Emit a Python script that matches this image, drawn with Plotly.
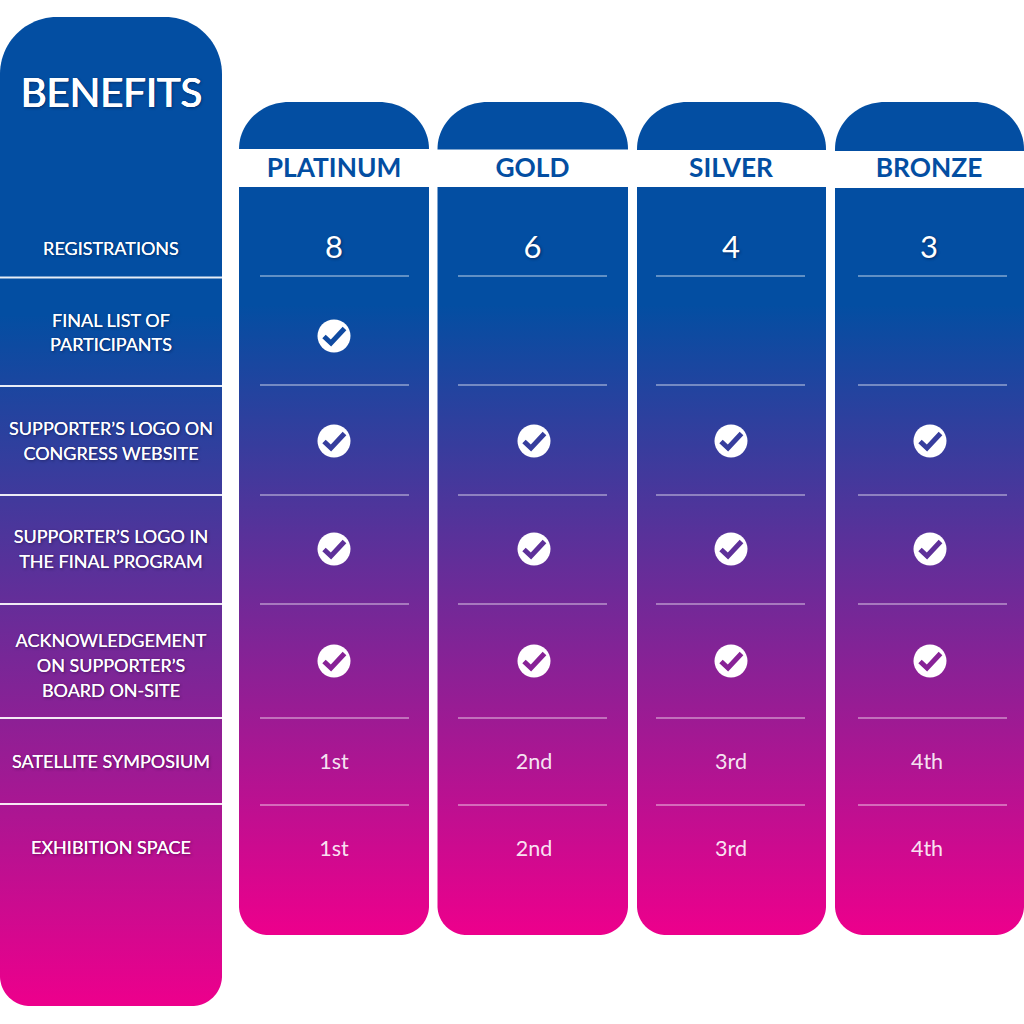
import plotly.graph_objects as go
import math

# ---- content
tiers = ["PLATINUM", "GOLD", "SILVER", "BRONZE"]
benefit_lines = [
    ["REGISTRATIONS"],
    ["FINAL LIST OF", "PARTICIPANTS"],
    ["SUPPORTER’S LOGO ON", "CONGRESS WEBSITE"],
    ["SUPPORTER’S LOGO IN", "THE FINAL PROGRAM"],
    ["ACKNOWLEDGEMENT", "ON SUPPORTER’S", "BOARD ON-SITE"],
    ["SATELLITE SYMPOSIUM"],
    ["EXHIBITION SPACE"],
]
registrations = ["8", "6", "4", "3"]
final_list = [True, False, False, False]
logo_web = [True, True, True, True]
logo_prog = [True, True, True, True]
board = [True, True, True, True]
satellite = ["1st", "2nd", "3rd", "4th"]
exhibition = ["1st", "2nd", "3rd", "4th"]

# ---- layout in page pixels
col_left = [239, 437.5, 637, 835]
col_right = [429, 628, 826, 1024]
sep_left = [260, 458, 656, 858]
sep_right = [409, 607, 805, 1007]
band_top = [149, 149.5, 150, 151]
body_top = [187, 187, 187, 188]
col_text_x = [334, 532.5, 731, 929]
col_check_x = [334, 534, 731, 930]
num_text_x = [334, 534, 731, 927]
left_seps = [277.5, 386, 495, 604, 718, 804]
col_seps = [276, 385, 495, 604, 718, 805]
label_y = [[250.5], [322, 346], [430.5, 455], [538.5, 563], [642.5, 667, 692.5], [763], [849.5]]
row_y = [248, 336, 441, 549, 661, 761, 848]
digit_y = 250.5
num_y = {5: 763.5, 6: 850.5}

BLUE = "#034EA2"
PINK = "#EC008C"
FONT = "Lato"
SHADOW = "1px 1px 3px rgba(0,0,30,0.45)"
FAUX = "0 0 0.4px white, 1px 1px 3px rgba(0,0,30,0.45)"
FAUX_TITLE = "0.5px 0 0 white, -0.5px 0 0 white, 0 0.4px 0 white, 1px 1px 3px rgba(0,0,30,0.45)"


def mix(t):
    a, b = (3, 78, 162), (236, 0, 140)
    t = max(0, min(1, t))
    return "rgb(%d,%d,%d)" % tuple(round(a[i] + (b[i] - a[i]) * t) for i in range(3))


def corner(cx, cy, rx, ry, a0, a1, n=24):
    xs, ys = [], []
    for i in range(n + 1):
        a = math.radians(a0 + (a1 - a0) * i / n)
        xs.append(cx + rx * math.cos(a))
        ys.append(cy + ry * math.sin(a))
    return xs, ys


def rounded(x0, x1, y0, y1, rtx, rty, rb):
    xs, ys = [], []
    for c in [(x0 + rtx, y0 + rty, rtx, rty, 180, 270), (x1 - rtx, y0 + rty, rtx, rty, 270, 360),
              (x1 - rb, y1 - rb, rb, rb, 0, 90), (x0 + rb, y1 - rb, rb, rb, 90, 180)]:
        if c[2] == 0:
            xs.append(c[0]); ys.append(c[1])
        else:
            a, b = corner(*c)
            xs += a; ys += b
    return xs + xs[:1], ys + ys[:1]


def panel(x0, x1, y0, y1, rtx, rty, rb, g0=None, g1=None):
    xs, ys = rounded(x0, x1, y0, y1, rtx, rty, rb)
    kw = dict(fillcolor=BLUE)
    if g0 is not None:
        h = y1 - y0
        stop = (g0 - y0) / h
        kw = dict(fillgradient=dict(type="vertical", start=y0, stop=y1,
                                    colorscale=[[0, BLUE], [stop, BLUE], [(g1 - y0) / h, PINK], [1, PINK]]))
    return go.Scatter(x=xs, y=ys, mode="lines", line=dict(width=0, simplify=False), fill="toself", hoverinfo="skip", **kw)


fig = go.Figure()
G_COL = (305, 932)
G_LEFT = (315, 1002)

fig.add_trace(panel(0, 222, 17, 1006, 57, 57, 30, *G_LEFT))
for y in left_seps:
    fig.add_trace(go.Scatter(x=[0, 222], y=[y, y], mode="lines", line=dict(color="rgba(255,255,255,0.9)", width=2), hoverinfo="skip"))

for i in range(4):
    x0, x1 = col_left[i], col_right[i]
    fig.add_trace(panel(x0, x1, 102, band_top[i], 50, 47, 0))
    fig.add_trace(panel(x0, x1, body_top[i], 935, 0, 0, 29, *G_COL))
    for y in col_seps:
        fig.add_trace(go.Scatter(x=[sep_left[i], sep_right[i]], y=[y, y], mode="lines",
                                 line=dict(color="rgba(255,255,255,0.5)", width=1.5), hoverinfo="skip"))


def text_trace(xs, ys, texts, size, color="white", weight=400, shadow=SHADOW):
    return go.Scatter(x=xs, y=ys, text=texts, mode="text", textposition="middle center", hoverinfo="skip",
                      textfont=dict(family=FONT, size=size, color=color, weight=weight, shadow=shadow))


fig.add_trace(text_trace([111.5], [97], ["BENEFITS"], 40, shadow=FAUX_TITLE))
fig.add_trace(text_trace(col_text_x, [170.5] * 4, tiers, 26.3, color=BLUE, weight=700, shadow="none"))

for lines, ys in zip(benefit_lines, label_y):
    fig.add_trace(text_trace([111] * len(lines), ys, lines, 18, shadow=FAUX))

fig.add_trace(text_trace(col_text_x, [digit_y] * 4, registrations, 31, shadow=SHADOW))
for r, vals in ((5, satellite), (6, exhibition)):
    fig.add_trace(text_trace(num_text_x, [num_y[r]] * 4, vals, 21.5, color="rgba(255,255,255,0.9)", shadow="none"))

for r, flags in ((1, final_list), (2, logo_web), (3, logo_prog), (4, board)):
    xs = [x for x, f in zip(col_check_x, flags) if f]
    y = row_y[r]
    fig.add_trace(go.Scatter(x=xs, y=[y] * len(xs), mode="markers", hoverinfo="skip",
                             marker=dict(symbol="circle", size=33, color="white", line=dict(width=0))))
    tx, ty = [], []
    for x in xs:
        tx += [x - 10, x - 3, x + 10.5, None]
        ty += [y + 0.5, y + 7, y - 7.5, None]
    fig.add_trace(go.Scatter(x=tx, y=ty, mode="lines", hoverinfo="skip",
                             line=dict(color=mix((y - G_COL[0]) / (G_COL[1] - G_COL[0])), width=5)))

fig.update_layout(
    width=1024, height=1024, margin=dict(l=0, r=0, t=0, b=0), showlegend=False,
    paper_bgcolor="white", plot_bgcolor="white",
    xaxis=dict(range=[0, 1024], visible=False, fixedrange=True),
    yaxis=dict(range=[1024, 0], visible=False, fixedrange=True),
)
fig.write_html("out.html", config={"displayModeBar": False},
               post_script="document.body.style.margin='0';")
